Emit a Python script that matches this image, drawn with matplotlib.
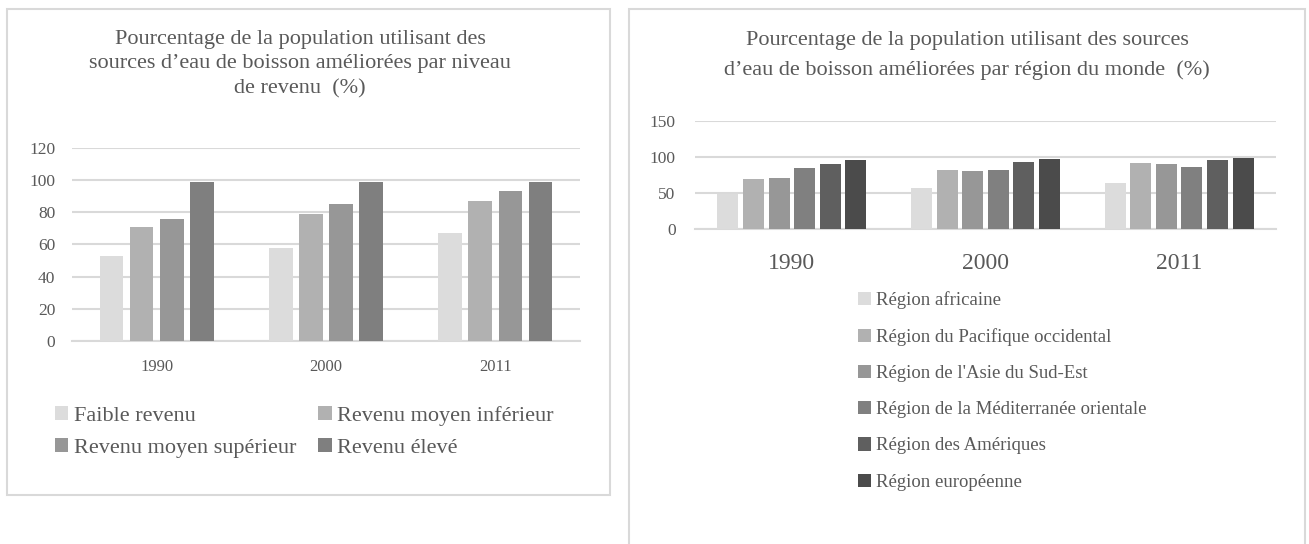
import numpy as np
import matplotlib.pyplot as plt
from matplotlib.patches import Rectangle

plt.rcParams['font.family'] = ['Liberation Serif', 'DejaVu Serif']

annees = ['1990', '2000', '2011']

# graphique 1 : niveau de revenu
revenus = ['Faible revenu', 'Revenu moyen inférieur',
           'Revenu moyen supérieur', 'Revenu élevé']
faible = [53, 58, 67]
moyen_inf = [71, 79, 87]
moyen_sup = [76, 85, 93]
eleve = [99, 99, 99]
gris_revenu = ['#dcdcdc', '#b1b1b1', '#979797', '#7f7f7f']

# graphique 2 : region du monde
regions = ['Région africaine', 'Région du Pacifique occidental',
           "Région de l'Asie du Sud-Est", 'Région de la Méditerranée orientale',
           'Région des Amériques', 'Région européenne']
africaine = [49, 57, 64]
pacifique = [70, 82, 92]
asie_se = [71, 80, 90]
mediterranee = [85, 82, 86]
ameriques = [90, 93, 96]
europe = [96, 97, 98]
gris_region = ['#dcdcdc', '#b1b1b1', '#979797', '#808080', '#5f5f5f', '#4b4b4b']

texte = '#595959'
grille = '#d9d9d9'

W, H = 1309, 544
fig = plt.figure(figsize=(W / 100, H / 100), dpi=100)


def px(x0, y0, x1, y1):
    # pixels (haut-gauche) -> fraction figure
    return [x0 / W, 1 - y1 / H, (x1 - x0) / W, (y1 - y0) / H]


# cadres
fig.patches.append(Rectangle((7 / W, 1 - 495 / H), 603 / W, 486 / H,
                             transform=fig.transFigure, fill=False,
                             edgecolor=grille, linewidth=1.5))
fig.patches.append(Rectangle((629 / W, -0.05), 676 / W, 1 - 9 / H + 0.05,
                             transform=fig.transFigure, fill=False,
                             edgecolor=grille, linewidth=1.5))


def barres(ax, series, couleurs, labels, largeur, pas):
    x = np.arange(len(annees))
    n = len(series)
    for i, (vals, c, lab) in enumerate(zip(series, couleurs, labels)):
        ax.bar(x + (i - (n - 1) / 2) * pas, vals, largeur, color=c, label=lab, zorder=3)
    ax.set_xlim(-0.5, len(annees) - 0.5)
    ax.set_xticks(x)
    ax.set_xticklabels(annees)
    ax.yaxis.grid(True, color=grille, linewidth=1.5, zorder=0)
    for s in ['top', 'right', 'left']:
        ax.spines[s].set_visible(False)
    ax.spines['bottom'].set_color(grille)
    ax.spines['bottom'].set_linewidth(1.5)
    ax.tick_params(length=0, colors=texte)


# --- graphique de gauche
ax1 = fig.add_axes(px(72, 148, 580, 341))
barres(ax1, [faible, moyen_inf, moyen_sup, eleve], gris_revenu, revenus, 0.14, 0.178)
ax1.set_ylim(0, 120)
ax1.set_yticks(range(0, 121, 20))
ax1.tick_params(axis='y', labelsize=12.5, pad=12)
ax1.tick_params(axis='x', labelsize=12, pad=13)
fig.text(300 / W, 1 - 30 / H,
         'Pourcentage de la population utilisant des\n'
         'sources d\u2019eau de boisson améliorées par niveau\nde revenu  (%)',
         ha='center', va='top', fontsize=16, color=texte, linespacing=1.38)
h, l = ax1.get_legend_handles_labels()
ordre = [0, 2, 1, 3]  # remplissage par ligne
fig.legend([h[i] for i in ordre], [l[i] for i in ordre], loc='upper left',
           bbox_to_anchor=(35 / W, 1 - 386 / H), ncol=2, frameon=False,
           fontsize=16, labelcolor=texte, handlelength=0.6, handleheight=0.6,
           handletextpad=0.25, columnspacing=1.0, labelspacing=0.55)

# --- graphique de droite
ax2 = fig.add_axes(px(695, 121, 1276, 229))
barres(ax2, [africaine, pacifique, asie_se, mediterranee, ameriques, europe],
       gris_region, regions, 0.108, 0.132)
ax2.set_ylim(0, 150)
ax2.set_yticks(range(0, 151, 50))
ax2.tick_params(axis='y', labelsize=12.5, pad=14)
ax2.tick_params(axis='x', labelsize=17, pad=17)
fig.text(967 / W, 1 - 31 / H,
         'Pourcentage de la population utilisant des sources\n'
         'd\u2019eau de boisson améliorées par région du monde  (%)',
         ha='center', va='top', fontsize=16, color=texte, linespacing=1.72)
fig.legend(*ax2.get_legend_handles_labels(), loc='upper left',
           bbox_to_anchor=(841 / W, 1 - 274 / H), ncol=1, frameon=False,
           fontsize=13.5, labelcolor=texte, handlelength=0.7, handleheight=0.7,
           handletextpad=0.25, labelspacing=1.02)

fig.savefig('out.png', dpi=100)
